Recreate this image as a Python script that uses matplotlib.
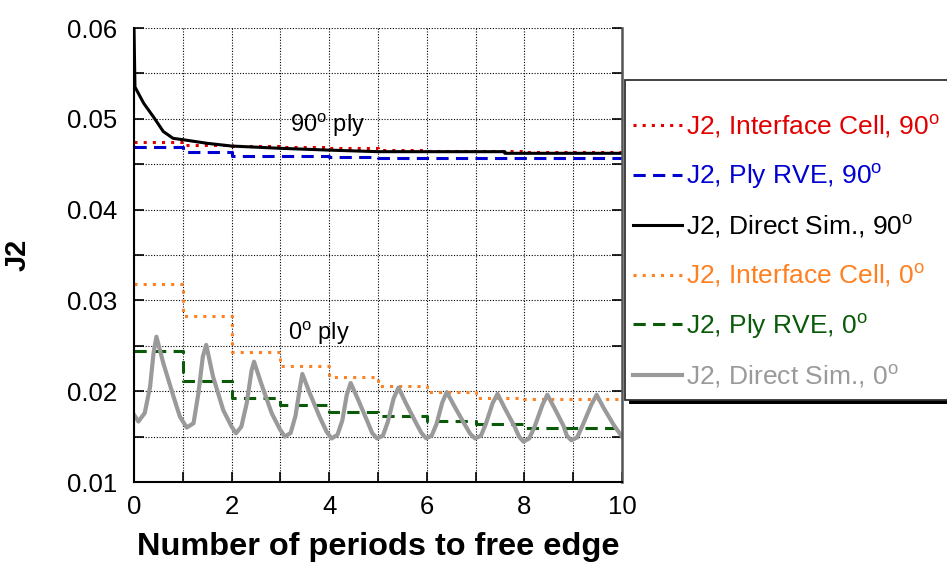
import numpy as np
import matplotlib
matplotlib.use("Agg")
import matplotlib.pyplot as plt
from matplotlib.patches import Rectangle

plt.rcParams['font.family'] = ['Liberation Sans', 'DejaVu Sans']
plt.rcParams['mathtext.fontset'] = 'custom'
plt.rcParams['mathtext.rm'] = 'Liberation Sans'
plt.rcParams['mathtext.it'] = 'Liberation Sans:italic'
plt.rcParams['mathtext.bf'] = 'Liberation Sans:bold'

# ---------------- data ----------------
step_x = [0, 1, 2, 3, 4, 5, 6, 7, 8, 9, 10]
ic90 = [0.04748, 0.0471, 0.0470, 0.04693, 0.04675, 0.04657, 0.0465, 0.0464, 0.04638, 0.04635, 0.04635]
rve90 = [0.0469, 0.0463, 0.0459, 0.0459, 0.0458, 0.04565, 0.04565, 0.04565, 0.04565, 0.04565, 0.04565]
ds90_x = [0.0, 0.02, 0.2, 0.4, 0.6, 0.8, 1.0, 1.5, 2.0, 3.0, 4.0, 5.0, 7.6, 7.6, 10.0]
ds90_y = [0.0600, 0.0535, 0.0517, 0.0502, 0.0486, 0.04785, 0.0477, 0.0473, 0.0470, 0.04675, 0.04655, 0.04638, 0.04638, 0.0462, 0.0462]
ic0 = [0.03181, 0.02832, 0.02428, 0.02278, 0.0216, 0.02061, 0.01991, 0.01928, 0.01911, 0.0191, 0.0191]
rve0 = [0.02446, 0.02112, 0.01928, 0.01848, 0.01774, 0.01727, 0.01675, 0.01639, 0.01591, 0.0159, 0.0159]
ds0_x = [0.00, 0.09, 0.22, 0.33, 0.40, 0.46,
         0.60, 0.81, 0.94, 1.08, 1.22, 1.32, 1.41, 1.48,
         1.62, 1.83, 2.00, 2.09, 2.20, 2.31, 2.41, 2.46,
         2.61, 2.82, 2.99, 3.09, 3.21, 3.31, 3.40, 3.45,
         3.60, 3.81, 3.95, 4.05, 4.17, 4.27, 4.36, 4.44,
         4.59, 4.78, 4.88, 4.98, 5.10, 5.20, 5.32, 5.42,
         5.57, 5.78, 5.89, 5.99, 6.10, 6.20, 6.32, 6.41,
         6.56, 6.77, 6.89, 6.99, 7.11, 7.21, 7.35, 7.45,
         7.60, 7.80, 7.89, 7.98, 8.10, 8.21, 8.37, 8.47,
         8.62, 8.80, 8.87, 8.96, 9.08, 9.19, 9.37, 9.48,
         9.63, 9.84, 10.00]
ds0_y = [0.0174, 0.01666, 0.0176, 0.0205, 0.0242, 0.0260,
         0.0231, 0.0194, 0.0172, 0.0160, 0.01647, 0.01978, 0.0238, 0.0251,
         0.0216, 0.0179, 0.0161, 0.01536, 0.0161, 0.01867, 0.0223, 0.02325,
         0.0208, 0.0176, 0.0158, 0.0150, 0.0154, 0.0173, 0.0204, 0.0219,
         0.0198, 0.0171, 0.0155, 0.0148, 0.0152, 0.0168, 0.0196, 0.0209,
         0.0191, 0.0167, 0.0154, 0.0148, 0.0151, 0.0166, 0.0192, 0.0204,
         0.0187, 0.0165, 0.0154, 0.0148, 0.0151, 0.0164, 0.0188, 0.0199,
         0.0184, 0.0164, 0.0153, 0.0148, 0.0151, 0.0164, 0.0187, 0.0197,
         0.0181, 0.0161, 0.0150, 0.01445, 0.0148, 0.0161, 0.0185, 0.0196,
         0.0181, 0.0162, 0.0151, 0.0146, 0.0149, 0.0162, 0.0185, 0.0196,
         0.0181, 0.0162, 0.0150]

labels = ["J2, Interface Cell, 90$^{\\mathrm{o}}$",
          "J2, Ply RVE, 90$^{\\mathrm{o}}$",
          "J2, Direct Sim., 90$^{\\mathrm{o}}$",
          "J2, Interface Cell, 0$^{\\mathrm{o}}$",
          "J2, Ply RVE, 0$^{\\mathrm{o}}$",
          "J2, Direct Sim., 0$^{\\mathrm{o}}$"]
xticks = [0, 1, 2, 3, 4, 5, 6, 7, 8, 9, 10]
xticklabels = ['0', '', '2', '', '4', '', '6', '', '8', '', '10']
yticks = [0.01, 0.015, 0.02, 0.025, 0.03, 0.035, 0.04, 0.045, 0.05, 0.055, 0.06]
yticklabels = ['0.01', '', '0.02', '', '0.03', '', '0.04', '', '0.05', '', '0.06']

# ---------------- figure ----------------
W, H = 947, 565
fig = plt.figure(figsize=(W / 100, H / 100), dpi=100)
ax = fig.add_axes([134 / W, 1 - 482 / H, 488 / W, 454 / H])

red = '#e00000'
blue = '#0000d0'
orange = '#ff8020'
green = '#0a5a0a'
gray = '#9a9a9a'

dot = (0, (1, 2))
dash = (0, (4, 2.4))

l1, = ax.plot(step_x, ic90, drawstyle='steps-post', color=red, lw=2.2, ls=dot)
l2, = ax.plot(step_x, rve90, drawstyle='steps-post', color=blue, lw=2.2, ls=dash)
l3, = ax.plot(ds90_x, ds90_y, color='black', lw=2.2, solid_joinstyle='round')
l4, = ax.plot(step_x, ic0, drawstyle='steps-post', color=orange, lw=2.2, ls=dot)
l5, = ax.plot(step_x, rve0, drawstyle='steps-post', color=green, lw=2.2, ls=dash)
l6, = ax.plot(ds0_x, ds0_y, color=gray, lw=3.0, solid_joinstyle='round')

ax.set_xlim(0, 10)
ax.set_ylim(0.01, 0.06)
ax.set_xticks(xticks)
ax.set_xticklabels(xticklabels)
ax.set_yticks(yticks)
ax.set_yticklabels(yticklabels)
ax.tick_params(axis='both', direction='in', length=7, width=1.2, labelsize=18.5,
               right=True, top=False, colors='black')
ax.tick_params(axis='y', pad=12)
ax.tick_params(axis='x', pad=9)
ax.grid(True, color='black', ls=(0, (1, 1.5)), lw=0.8)
ax.set_axisbelow(True)
ax.spines['top'].set_visible(False)
ax.spines['left'].set_linewidth(1.5)
ax.spines['bottom'].set_linewidth(1.5)
ax.spines['right'].set_linewidth(1.8)
ax.spines['right'].set_color('#555555')

ax.set_xlabel('Number of periods to free edge', fontsize=23.4, fontweight='bold', labelpad=10)
ax.set_ylabel('J2', fontsize=21, fontweight='bold')
ax.yaxis.set_label_coords(-0.209, 0.5)

ax.text(3.2, 0.0493, '90$^{\\mathrm{o}}$ ply', fontsize=17, va='center', ha='left')
ax.text(3.15, 0.0264, '0$^{\\mathrm{o}}$ ply', fontsize=17, va='center', ha='left')

# legend box with shadow
fig.add_artist(Rectangle((629 / W, 1 - 404 / H), (980 - 629) / W, 320 / H,
                         transform=fig.transFigure, facecolor='black', edgecolor='none',
                         zorder=2, clip_on=False))
fig.add_artist(Rectangle((625 / W, 1 - 400 / H), (980 - 625) / W, 320 / H,
                         transform=fig.transFigure, facecolor='white', edgecolor='#333333',
                         lw=1.3, zorder=3, clip_on=False))

leg = fig.legend([l1, l2, l3, l4, l5, l6], labels, loc='upper left',
                 bbox_to_anchor=(633 / W, 1 - 113 / H), bbox_transform=fig.transFigure,
                 frameon=False, fontsize=19.0, handlelength=1.85, handletextpad=0.15,
                 labelspacing=0.84, borderpad=0, borderaxespad=0, labelcolor='linecolor')
leg.set_zorder(5)

fig.savefig('out.png', dpi=100)
